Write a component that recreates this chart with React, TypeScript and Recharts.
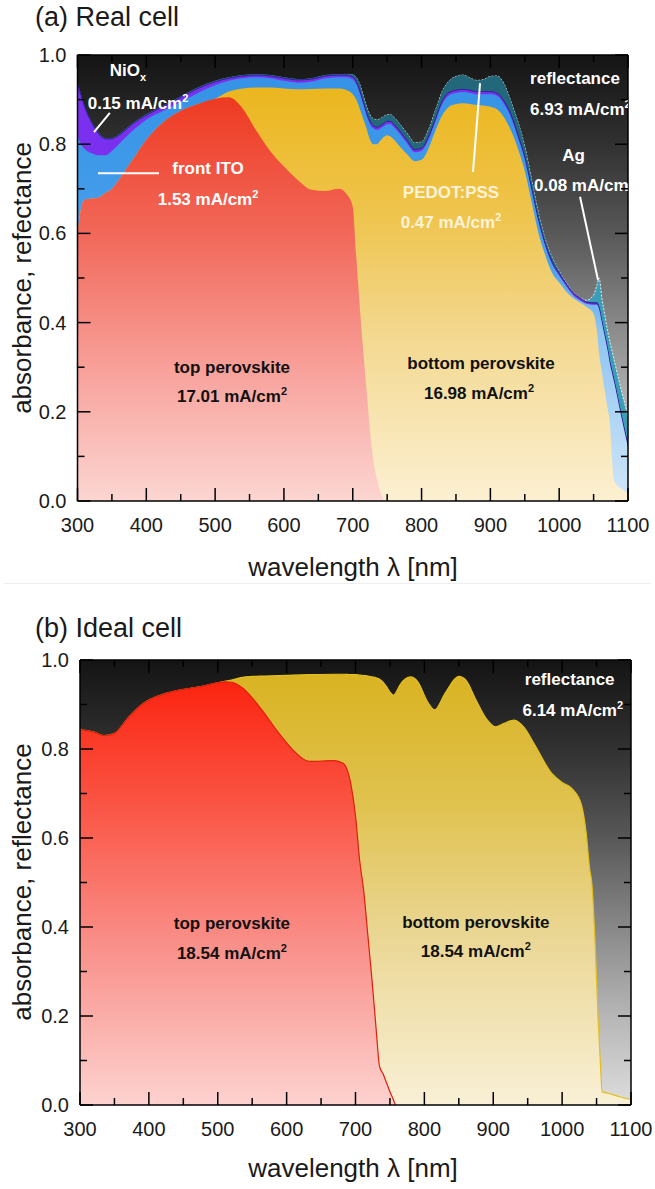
import React from 'react';
import { AreaChart, Area, XAxis, YAxis, CartesianGrid, ReferenceLine, ReferenceDot } from 'recharts';

const FONT = '"Liberation Sans", Arial, Helvetica, sans-serif';

// ---------- axis ticks ----------
const xTicks = [300, 350, 400, 450, 500, 550, 600, 650, 700, 750, 800, 850, 900, 950, 1000, 1050, 1100];
const yTicks = [0, 0.1, 0.2, 0.3, 0.4, 0.5, 0.6, 0.7, 0.8, 0.9, 1.0];

// ---------- panel (a) real cell: upper boundary of each layer ----------
const lambdaA = [300, 305, 310, 320, 330, 340, 350, 360, 380, 400, 425, 450, 475, 500, 520, 540, 560, 580, 600, 620, 640, 660, 680, 690,
  700, 705, 710, 715, 720, 725, 730, 735, 740, 745, 750, 755, 760,
  770, 780, 790, 800, 810, 820, 830, 840, 850, 860, 870, 880, 890, 900, 910, 920, 930, 940, 950, 960, 970, 980, 990, 1000, 1010, 1020, 1030, 1040,
  1050, 1055, 1058, 1062, 1066, 1070, 1074, 1077, 1080, 1090, 1100];

const topPerovskiteA = [0.60, 0.655, 0.675, 0.678, 0.68, 0.69, 0.70, 0.72, 0.765, 0.81, 0.85, 0.875, 0.89, 0.902, 0.905, 0.88, 0.83, 0.785, 0.75, 0.72, 0.698, 0.695, 0.70, 0.69,
  0.66, 0.55, 0.44, 0.34, 0.25, 0.16, 0.09, 0.05, 0.022, 0, null, null, null,
  null, null, null, null, null, null, null, null, null, null, null, null, null, null, null, null, null, null, null, null, null, null, null, null, null, null, null, null,
  null, null, null, null, null, null, null, null, null, null, null];

const bottomPerovskiteA = [0.60, 0.655, 0.675, 0.678, 0.68, 0.69, 0.70, 0.72, 0.765, 0.81, 0.85, 0.875, 0.89, 0.902, 0.918, 0.925, 0.927, 0.927, 0.925, 0.923, 0.924, 0.925, 0.925, 0.922,
  0.912, 0.90, 0.88, 0.858, 0.835, 0.81, 0.80, 0.80, 0.808, 0.816, 0.82, 0.817, 0.81,
  0.792, 0.776, 0.762, 0.765, 0.79, 0.83, 0.865, 0.884, 0.89, 0.892, 0.89, 0.888, 0.887, 0.884, 0.878, 0.86, 0.83, 0.79, 0.74, 0.67, 0.60, 0.55, 0.51, 0.49, 0.47, 0.455, 0.445, 0.435,
  0.42, 0.38, 0.33, 0.29, 0.25, 0.21, 0.17, 0.09, 0.045, 0.028, 0.018];

const frontItoA = [0.82, 0.80, 0.79, 0.78, 0.775, 0.775, 0.785, 0.80, 0.83, 0.855, 0.875, 0.895, 0.915, 0.932, 0.942, 0.948, 0.95, 0.948, 0.942, 0.938, 0.94, 0.948, 0.95, 0.95,
  0.945, 0.935, 0.915, 0.89, 0.865, 0.845, 0.835, 0.832, 0.835, 0.84, 0.845, 0.845, 0.838,
  0.82, 0.80, 0.782, 0.785, 0.81, 0.85, 0.89, 0.91, 0.915, 0.917, 0.915, 0.912, 0.912, 0.912, 0.908, 0.89, 0.86, 0.815, 0.765, 0.695, 0.625, 0.57, 0.53, 0.505, 0.482, 0.462, 0.45, 0.442,
  0.44, 0.44, 0.43, 0.40, 0.37, 0.34, 0.305, 0.285, 0.265, 0.19, 0.12];

const nioxA = [0.935, 0.91, 0.885, 0.85, 0.825, 0.812, 0.812, 0.82, 0.845, 0.865, 0.885, 0.905, 0.925, 0.94, 0.948, 0.953, 0.955, 0.953, 0.948, 0.944, 0.946, 0.953, 0.955, 0.955,
  0.951, 0.941, 0.921, 0.896, 0.871, 0.851, 0.841, 0.838, 0.841, 0.846, 0.851, 0.851, 0.844,
  0.826, 0.806, 0.788, 0.791, 0.816, 0.856, 0.896, 0.916, 0.921, 0.923, 0.921, 0.918, 0.918, 0.918, 0.914, 0.896, 0.866, 0.821, 0.771, 0.70, 0.63, 0.575, 0.535, 0.51, 0.487, 0.467, 0.455, 0.446,
  0.444, 0.444, 0.434, 0.404, 0.374, 0.344, 0.309, 0.289, 0.269, 0.194, 0.124];

const pedotA = [0.937, 0.912, 0.887, 0.852, 0.827, 0.814, 0.814, 0.822, 0.847, 0.867, 0.887, 0.907, 0.927, 0.942, 0.95, 0.955, 0.957, 0.955, 0.95, 0.946, 0.948, 0.955, 0.957, 0.957,
  0.956, 0.95, 0.935, 0.91, 0.885, 0.866, 0.857, 0.855, 0.857, 0.862, 0.866, 0.866, 0.86,
  0.842, 0.822, 0.803, 0.805, 0.832, 0.875, 0.918, 0.942, 0.952, 0.955, 0.949, 0.943, 0.945, 0.952, 0.953, 0.935, 0.895, 0.85, 0.795, 0.72, 0.645, 0.585, 0.545, 0.515, 0.49, 0.468, 0.456, 0.447,
  0.446, 0.446, 0.436, 0.406, 0.376, 0.346, 0.311, 0.291, 0.271, 0.196, 0.126];

const agA = [0.937, 0.912, 0.887, 0.852, 0.827, 0.814, 0.814, 0.822, 0.847, 0.867, 0.887, 0.907, 0.927, 0.942, 0.95, 0.955, 0.957, 0.955, 0.95, 0.946, 0.948, 0.955, 0.957, 0.957,
  0.956, 0.95, 0.935, 0.91, 0.885, 0.866, 0.857, 0.855, 0.857, 0.862, 0.866, 0.866, 0.86,
  0.842, 0.822, 0.803, 0.805, 0.832, 0.875, 0.918, 0.942, 0.952, 0.955, 0.949, 0.943, 0.945, 0.952, 0.953, 0.935, 0.895, 0.85, 0.795, 0.72, 0.645, 0.585, 0.545, 0.515, 0.49, 0.468, 0.456, 0.45,
  0.462, 0.485, 0.50, 0.455, 0.42, 0.385, 0.355, 0.335, 0.315, 0.25, 0.19];

// ---------- panel (b) ideal cell ----------
const lambdaB = [300, 320, 335, 350, 370, 390, 425, 475, 510, 520,
  536, 550, 564, 589, 609, 633, 669, 682, 694, 700,
  706, 712, 718, 724, 730, 735, 740, 745, 750, 755,
  758, 765, 780, 790, 805, 815, 830, 850, 860, 875,
  890, 903, 915, 930, 945, 960, 985, 1000, 1015, 1028,
  1035, 1040, 1043, 1048, 1052, 1056, 1058, 1070, 1085, 1100];

const bottomPerovskiteB = [0.843, 0.838, 0.83, 0.835, 0.87, 0.90, 0.925, 0.94, 0.952, 0.955,
  0.961, 0.963, 0.964, 0.965, 0.966, 0.967, 0.968, 0.968, 0.967, 0.967,
  0.966, 0.965, 0.964, 0.962, 0.96, 0.957, 0.95, 0.94, 0.928, 0.921,
  0.925, 0.945, 0.962, 0.952, 0.905, 0.888, 0.925, 0.963, 0.955, 0.91,
  0.868, 0.85, 0.857, 0.865, 0.848, 0.81, 0.745, 0.725, 0.71, 0.675,
  0.61, 0.53, 0.50, 0.36, 0.20, 0.08, 0.03, 0.025, 0.018, 0.012];

const topPerovskiteB = [0.843, 0.838, 0.83, 0.835, 0.87, 0.90, 0.925, 0.94, 0.951, 0.95,
  0.937, 0.915, 0.888, 0.835, 0.798, 0.772, 0.774, 0.768, 0.715, 0.65,
  0.55, 0.48, 0.38, 0.28, 0.17, 0.086, 0.07, 0.05, 0.03, 0.012,
  0, null, null, null, null, null, null, null, null, null,
  null, null, null, null, null, null, null, null, null, null,
  null, null, null, null, null, null, null, null, null, null];

function rows(lambda: number[], series: Record<string, (number | null)[]>) {
  return lambda.map((l, i) => {
    const r: any = { l };
    for (const k of Object.keys(series)) r[k] = series[k][i];
    return r;
  });
}

const dataA = rows(lambdaA, { red: topPerovskiteA, yel: bottomPerovskiteA, ito: frontItoA, nio: nioxA, pedot: pedotA, ag: agA });
const dataB = rows(lambdaB, { red: topPerovskiteB, yel: bottomPerovskiteB });

// ---------- ticks ----------
const INK = '#1a1a1a';
const BottomTick = (p: any) => {
  const v = p.payload.value;
  const major = Math.round(v) % 100 === 0;
  return (
    <g>
      <line x1={p.x} x2={p.x} y1={p.y} y2={p.y - (major ? 13 : 7)} stroke="#000" strokeWidth={1.5} />
      {major && (
        <text x={p.x} y={p.y + 24} dy="0.35em" textAnchor="middle" fontSize={20} fill={INK} fontFamily={FONT}>{v}</text>
      )}
    </g>
  );
};
const TopTick = (p: any) => {
  const major = Math.round(p.payload.value) % 100 === 0;
  return <line x1={p.x} x2={p.x} y1={p.y} y2={p.y + (major ? 13 : 7)} stroke="#000" strokeWidth={1.5} />;
};
const LeftTick = (p: any) => {
  const v = p.payload.value;
  const major = Math.round(v * 10) % 2 === 0;
  return (
    <g>
      <line x1={p.x} x2={p.x + (major ? 13 : 7)} y1={p.y} y2={p.y} stroke="#000" strokeWidth={1.5} />
      {major && (
        <text x={p.x - 11} y={p.y} dy="0.35em" textAnchor="end" fontSize={20} fill={INK} fontFamily={FONT}>{v.toFixed(1)}</text>
      )}
    </g>
  );
};
const RightTick = (p: any) => {
  const major = Math.round(p.payload.value * 10) % 2 === 0;
  return <line x1={p.x} x2={p.x - (major ? 13 : 7)} y1={p.y} y2={p.y} stroke="#000" strokeWidth={1.5} />;
};

const axisLine = { stroke: '#000', strokeWidth: 1.5 };

function frame() {
  return [
    <XAxis key="xb" xAxisId="b" dataKey="l" type="number" domain={[300, 1100]} ticks={xTicks} interval={0} height={1}
      tickSize={0} tickMargin={0} tickLine={false} axisLine={axisLine} tick={(p: any) => <BottomTick {...p} />} allowDataOverflow />,
    <XAxis key="xt" xAxisId="t" orientation="top" dataKey="l" type="number" domain={[300, 1100]} ticks={xTicks} interval={0} height={1}
      tickSize={0} tickMargin={0} tickLine={false} axisLine={axisLine} tick={(p: any) => <TopTick {...p} />} allowDataOverflow />,
    <YAxis key="yl" yAxisId="l" type="number" domain={[0, 1]} ticks={yTicks} interval={0} width={1}
      tickSize={0} tickMargin={0} tickLine={false} axisLine={axisLine} tick={(p: any) => <LeftTick {...p} />} allowDataOverflow />,
    <YAxis key="yr" yAxisId="r" orientation="right" type="number" domain={[0, 1]} ticks={yTicks} interval={0} width={1}
      tickSize={0} tickMargin={0} tickLine={false} axisLine={axisLine} tick={(p: any) => <RightTick {...p} />} allowDataOverflow />,
  ];
}

function note(key: string, x: number, y: number, color: string, content: React.ReactNode, anchor: string = 'middle') {
  return (
    <ReferenceDot key={key} xAxisId="b" yAxisId="l" x={x} y={y} r={0} ifOverflow="hidden"
      shape={(p: any) => (
        <text x={p.cx} y={p.cy} dy="0.35em" textAnchor={anchor} fontSize={17} fontWeight="bold" fill={color}
          fontFamily={FONT} clipPath={p.clipPath}>{content}</text>
      )} />
  );
}

function sq(main: string) {
  return (
    <>
      <tspan>{main}</tspan>
      <tspan dy={-7} fontSize={11}>2</tspan>
    </>
  );
}

function pointer(key: string, x1: number, y1: number, x2: number, y2: number) {
  return (
    <ReferenceLine key={key} xAxisId="b" yAxisId="l" segment={[{ x: x1, y: y1 }, { x: x2, y: y2 }]}
      stroke="#ffffff" strokeWidth={2} ifOverflow="visible" />
  );
}

const areaCommon = { xAxisId: 'b', yAxisId: 'l', type: 'monotone' as const, isAnimationActive: false, dot: false, activeDot: false, fillOpacity: 1 };

function GrayGrad({ id }: { id: string }) {
  return (
    <linearGradient id={id} x1="0" y1="0" x2="0" y2="1">
      <stop offset="0" stopColor="#141414" />
      <stop offset="0.2" stopColor="#313131" />
      <stop offset="0.4" stopColor="#585858" />
      <stop offset="0.6" stopColor="#888888" />
      <stop offset="0.8" stopColor="#b6b6b6" />
      <stop offset="1" stopColor="#dddddd" />
    </linearGradient>
  );
}

function PanelA() {
  return (
    <AreaChart width={655} height={600} data={dataA} margin={{ top: 54, left: 76.5, right: 26, bottom: 98 }}>
      <defs>
        <GrayGrad id="reflA" />
        <linearGradient id="redA" x1="0" y1="0" x2="0" y2="1">
          <stop offset="0" stopColor="#ee3a22" />
          <stop offset="0.35" stopColor="#f26a5c" />
          <stop offset="0.7" stopColor="#f8a59f" />
          <stop offset="1" stopColor="#fcd6d2" />
        </linearGradient>
        <linearGradient id="yelA" x1="0" y1="0" x2="0" y2="1">
          <stop offset="0" stopColor="#ebb61e" />
          <stop offset="0.3" stopColor="#efc44c" />
          <stop offset="0.6" stopColor="#f3d88f" />
          <stop offset="1" stopColor="#fcf0d2" />
        </linearGradient>
        <linearGradient id="itoA" x1="0" y1="0" x2="0" y2="1">
          <stop offset="0" stopColor="#3592e6" />
          <stop offset="0.45" stopColor="#4aa2ec" />
          <stop offset="0.6" stopColor="#8fc5f2" />
          <stop offset="1" stopColor="#d0e6f8" />
        </linearGradient>
        <linearGradient id="outlineA" x1="0" y1="0" x2="1" y2="0">
          <stop offset="0" stopColor="#ffffff" stopOpacity={0} />
          <stop offset="0.48" stopColor="#ffffff" stopOpacity={0} />
          <stop offset="0.52" stopColor="#ffffff" stopOpacity={0.85} />
          <stop offset="1" stopColor="#ffffff" stopOpacity={0.85} />
        </linearGradient>
      </defs>
      <CartesianGrid xAxisId="b" yAxisId="l" horizontal={false} vertical={false} fill="url(#reflA)" fillOpacity={1} stroke="none" />
      {frame()}
      <Area {...areaCommon} dataKey="ag" stroke="url(#outlineA)" strokeWidth={1} strokeDasharray="2 1.5" fill="#3c9eb6" />
      <Area {...areaCommon} dataKey="pedot" stroke="none" fill="#22687a" />
      <Area {...areaCommon} dataKey="nio" stroke="#2c1f9c" strokeWidth={1} fill="#7a30ee" />
      <Area {...areaCommon} dataKey="ito" stroke="none" fill="url(#itoA)" />
      <Area {...areaCommon} dataKey="yel" stroke="none" fill="url(#yelA)" />
      <Area {...areaCommon} dataKey="red" stroke="none" fill="url(#redA)" />
      {pointer('p1', 324, 0.827, 347, 0.87)}
      {pointer('p2', 329.8, 0.735, 418.4, 0.735)}
      {pointer('p3', 874.8, 0.738, 885, 0.937)}
      {pointer('p4', 1030.3, 0.682, 1056.4, 0.4955)}
      {note('n1', 373.4, 0.966, '#ffffff', <><tspan>NiO</tspan><tspan dy={5} fontSize={11}>x</tspan></>)}
      {note('n2', 388, 0.892, '#ffffff', sq('0.15 mA/cm'))}
      {note('n3', 489.7, 0.747, '#ffffff', 'front ITO')}
      {note('n4', 489.7, 0.677, '#ffffff', sq('1.53 mA/cm'))}
      {note('n5', 842.8, 0.693, '#fdf3d8', 'PEDOT:PSS')}
      {note('n6', 842.8, 0.626, '#fdf3d8', sq('0.47 mA/cm'))}
      {note('n7', 1023, 0.948, '#ffffff', 'reflectance')}
      {note('n8', 957.6, 0.879, '#ffffff', sq('6.93 mA/cm'), 'start')}
      {note('n9', 1020.8, 0.776, '#ffffff', 'Ag')}
      {note('n10', 963.4, 0.7085, '#ffffff', sq('0.08 mA/cm'), 'start')}
      {note('n11', 524.5, 0.30, '#111111', 'top perovskite')}
      {note('n12', 524.5, 0.235, '#111111', sq('17.01 mA/cm'))}
      {note('n13', 886.4, 0.309, '#111111', 'bottom perovskite')}
      {note('n14', 883.5, 0.242, '#111111', sq('16.98 mA/cm'))}
    </AreaChart>
  );
}

function PanelB() {
  return (
    <AreaChart width={655} height={589} data={dataB} margin={{ top: 59, left: 79, right: 23, bottom: 83 }}>
      <defs>
        <GrayGrad id="reflB" />
        <linearGradient id="redB" x1="0" y1="0" x2="0" y2="1">
          <stop offset="0" stopColor="#fb2410" />
          <stop offset="0.3" stopColor="#fa5646" />
          <stop offset="0.62" stopColor="#f98f89" />
          <stop offset="1" stopColor="#fdd2cf" />
        </linearGradient>
        <linearGradient id="yelB" x1="0" y1="0" x2="0" y2="1">
          <stop offset="0" stopColor="#d9b322" />
          <stop offset="0.3" stopColor="#e0c24f" />
          <stop offset="0.6" stopColor="#ead693" />
          <stop offset="1" stopColor="#f9f0d6" />
        </linearGradient>
      </defs>
      <CartesianGrid xAxisId="b" yAxisId="l" horizontal={false} vertical={false} fill="url(#reflB)" fillOpacity={1} stroke="none" />
      {frame()}
      <Area {...areaCommon} dataKey="yel" stroke="#e4bf1c" strokeWidth={1.2} fill="url(#yelB)" />
      <Area {...areaCommon} dataKey="red" stroke="#e01e0c" strokeWidth={1.2} fill="url(#redB)" />
      {note('m1', 1011, 0.957, '#ffffff', 'reflectance')}
      {note('m2', 1015.5, 0.888, '#ffffff', sq('6.14 mA/cm'))}
      {note('m3', 520.6, 0.409, '#111111', 'top perovskite')}
      {note('m4', 520.6, 0.342, '#111111', sq('18.54 mA/cm'))}
      {note('m5', 874.7, 0.411, '#111111', 'bottom perovskite')}
      {note('m6', 874.7, 0.346, '#111111', sq('18.54 mA/cm'))}
    </AreaChart>
  );
}

const titleStyle: React.CSSProperties = { position: 'absolute', fontFamily: FONT, fontSize: 27, lineHeight: '27px', color: INK, whiteSpace: 'nowrap' };
const yTitle = (cy: number): React.CSSProperties => ({
  position: 'absolute', left: 22, top: cy, transform: 'translate(-50%, -50%) rotate(-90deg)',
  fontFamily: FONT, fontSize: 26, lineHeight: '26px', color: INK, whiteSpace: 'nowrap',
});
const xTitle = (cy: number): React.CSSProperties => ({
  position: 'absolute', left: 353, top: cy, transform: 'translate(-50%, -50%)',
  fontFamily: FONT, fontSize: 26, lineHeight: '26px', color: INK, whiteSpace: 'nowrap',
});

export default function App() {
  return (
    <div style={{ position: 'absolute', left: 0, top: 0, width: 655, height: 1189, background: '#ffffff', overflow: 'hidden' }}>
      <div style={{ position: 'absolute', left: 0, top: 0 }}><PanelA /></div>
      <div style={{ position: 'absolute', left: 0, top: 600 }}><PanelB /></div>
      <div style={{ ...titleStyle, left: 35, top: 4 }}>(a) Real cell</div>
      <div style={{ ...titleStyle, left: 35, top: 615 }}>(b) Ideal cell</div>
      <div style={yTitle(278)}>absorbance, refectance</div>
      <div style={yTitle(882)}>absorbance, reflectance</div>
      <div style={xTitle(567)}>wavelength λ [nm]</div>
      <div style={xTitle(1168)}>wavelength λ [nm]</div>
      <div style={{ position: 'absolute', left: 4, top: 583, width: 647, height: 1, background: '#eeeeee' }} />
    </div>
  );
}
